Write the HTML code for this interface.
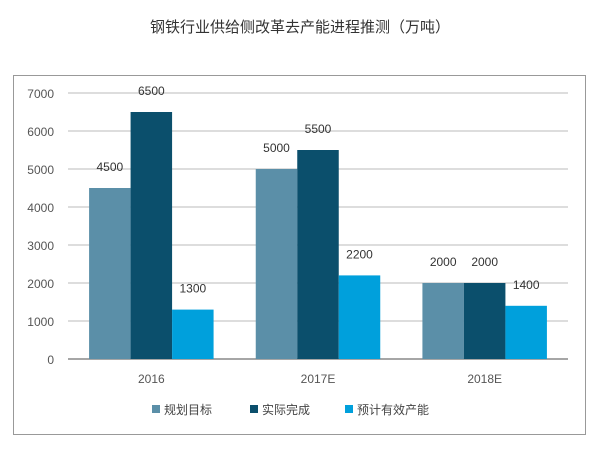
<!DOCTYPE html>
<html><head><meta charset="utf-8"><style>
body{margin:0;background:#fff;width:600px;height:454px;overflow:hidden;font-family:"Liberation Sans","Noto Sans CJK SC",sans-serif}
svg text{font-family:"Liberation Sans","Noto Sans CJK SC",sans-serif}
</style></head><body>
<svg id="c" width="600" height="454">
<text x="300" y="32" text-anchor="middle" font-size="15" fill="#333">钢铁行业供给侧改革去产能进程推测（万吨）</text>
<rect x="13.5" y="75.5" width="572" height="359" fill="none" stroke="#999"/>
<g id="grid"></g><g id="bars"></g><g id="labels"></g>
<g>
<rect x="152" y="405" width="8" height="8" fill="#5b8fa8"/>
<text x="164" y="414" font-size="12" fill="#444">规划目标</text>
<rect x="250" y="405" width="8" height="8" fill="#0b4f6c"/>
<text x="262" y="414" font-size="12" fill="#444">实际完成</text>
<rect x="345" y="405" width="8" height="8" fill="#00a0dc"/>
<text x="357" y="414" font-size="12" fill="#444">预计有效产能</text>
</g>
</svg>
<script>
const categories=["2016","2017E","2018E"];
const planValues=[4500,5000,2000];
const actualValues=[6500,5500,2000];
const expectedValues=[1300,2200,1400];
const yTicks=[0,1000,2000,3000,4000,5000,6000,7000];
const ns="http://www.w3.org/2000/svg";
const y0=359,yTop=93,yMax=7000,x0=68,x1=568;
const y=v=>y0-(v/yMax)*(y0-yTop);
const gw=(x1-x0)/categories.length;
const xc=i=>x0+gw*(i+0.5);
const bw=41.5;
function el(t,a,p){const e=document.createElementNS(ns,t);for(const k in a)e.setAttribute(k,a[k]);document.getElementById(p).appendChild(e);return e;}
yTicks.forEach(t=>{
 const l=el('line',{x1:x0,x2:x1,y1:y(t),y2:y(t),stroke:t===0?'#888':'#bbb','stroke-width':t===0?1.5:1},'grid');
 
 
 const tx=el('text',{x:54,y:y(t)+5,'text-anchor':'end','font-size':12,fill:'#555'},'grid');tx.textContent=t;
 
 
});
const series=[[planValues,'#5b8fa8','plan'],[actualValues,'#0b4f6c','actual'],[expectedValues,'#00a0dc','expected']];
categories.forEach((c,i)=>{
 const t=el('text',{x:xc(i),y:383,'text-anchor':'middle','font-size':12,fill:'#555'},'labels');t.textContent=c;
 
 
 series.forEach((s,j)=>{
  const bx=xc(i)+(j-1.5)*bw;
  const r=el('rect',{x:bx,y:y(s[0][i]),width:bw,height:y0-y(s[0][i]),fill:s[1]},'bars');
  
  
  const lb=el('text',{x:bx+bw/2,y:y(s[0][i])-17,'text-anchor':'middle','font-size':12,fill:'#333'},'labels');lb.textContent=s[0][i];
  
  
 });
});
</script>
</body></html>
